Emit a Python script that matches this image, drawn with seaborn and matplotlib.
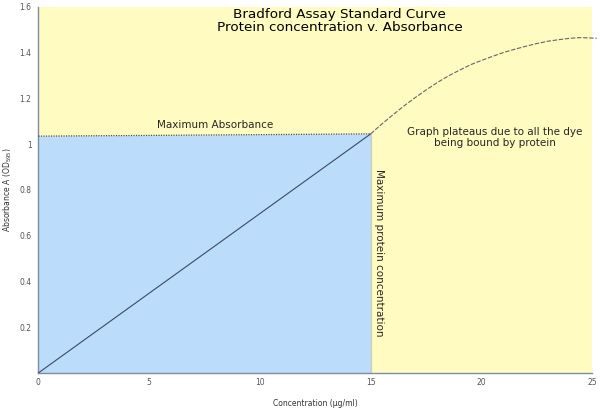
import numpy as np
import pandas as pd
import matplotlib
matplotlib.use('Agg')
import matplotlib.pyplot as plt
import seaborn as sns

# linear part of the standard curve
conc_linear = [0, 15]
abs_linear = [0, 1.045]

# plateau part
conc_plateau = [15.0, 15.5, 16.0, 16.5, 17.0, 17.5, 18.0, 18.5, 19.0, 19.5, 20.0,
                20.5, 21.0, 21.5, 22.0, 22.5, 23.0, 23.5, 24.0, 24.5, 25.2]
abs_plateau = [1.045, 1.088, 1.128, 1.167, 1.203, 1.237, 1.269, 1.298, 1.323, 1.347, 1.366,
               1.384, 1.401, 1.415, 1.428, 1.440, 1.450, 1.457, 1.463, 1.466, 1.463]

# maximum absorbance / maximum concentration guide lines
max_abs_x = [0, 15]
max_abs_y = [1.035, 1.045]
max_conc_x = [15, 15]
max_conc_y = [0, 1.045]

xticks = [0, 5, 10, 15, 20, 25]
yticks = [0.2, 0.4, 0.6, 0.8, 1.0, 1.2, 1.4, 1.6]
ytick_labels = ['0.2', '0.4', '0.6', '0.8', '1', '1.2', '1.4', '1.6']

sns.set_style('white')
plt.rcParams['font.family'] = ['DejaVu Sans']

fig, ax = plt.subplots(figsize=(6, 4.08), dpi=100)
fig.subplots_adjust(left=0.064, right=0.987, top=0.983, bottom=0.086)
ax.set_facecolor('#fffbc1')

ax.fill_between(max_abs_x, max_abs_y, 0, color='#bbdcfb', lw=0, zorder=1)

sns.lineplot(x=conc_linear, y=abs_linear, ax=ax, color='#3b4a63', lw=0.8, zorder=3)
sns.lineplot(x=conc_plateau, y=abs_plateau, ax=ax, color='#666666', lw=0.8,
             linestyle=(0, (4, 1.5)), zorder=3, clip_on=False)
sns.lineplot(x=max_abs_x, y=max_abs_y, ax=ax, color='#3d4c66', lw=0.9,
             linestyle=(0, (1, 1)), zorder=3)
sns.lineplot(x=max_conc_x, y=max_conc_y, ax=ax, color='#3d4c66', lw=0.9,
             linestyle=(0, (1, 1)), zorder=3)

ax.set_xlim(0, 25)
ax.set_ylim(0, 1.6)
ax.set_xticks(xticks)
ax.set_yticks(yticks)
ax.set_yticklabels(ytick_labels)
ax.tick_params(axis='both', labelsize=5.5, labelcolor='#555555', color='#7d8ca3')
ax.tick_params(axis='x', direction='in', length=3, width=0.7, pad=4)
ax.tick_params(axis='y', direction='out', length=3, width=0.7, pad=2)

for s in ['top', 'right']:
    ax.spines[s].set_visible(False)
for s in ['left', 'bottom']:
    ax.spines[s].set_color('#7d8ca3')
    ax.spines[s].set_linewidth(1.0)

ax.set_xlabel('Concentration (µg/ml)', fontsize=5.5, color='#333333', labelpad=8)
ax.set_ylabel('Absorbance A (OD$_{595}$)', fontsize=5.5, color='#333333', labelpad=4)

ax.text(13.6, 1.595, 'Bradford Assay Standard Curve\nProtein concentration v. Absorbance',
        ha='center', va='top', fontsize=9.7, linespacing=1.0, color='black')
ax.text(8.0, 1.06, 'Maximum Absorbance', ha='center', va='bottom', fontsize=7.5)
ax.text(20.6, 1.03, 'Graph plateaus due to all the dye\nbeing bound by protein',
        ha='center', va='center', fontsize=7.5, linespacing=1.1)
ax.text(15.15, 0.525, 'Maximum protein concentration', rotation=-90,
        ha='left', va='center', fontsize=7.5)

fig.savefig('out.png', dpi=100)
